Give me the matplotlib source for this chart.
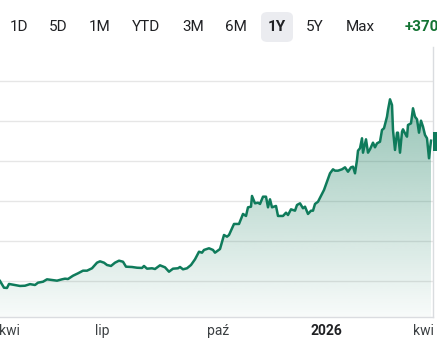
import numpy as np
import matplotlib
matplotlib.use("Agg")
import matplotlib.pyplot as plt
from matplotlib.patches import Polygon, FancyBboxPatch, Rectangle
from matplotlib.colors import to_rgb

plt.rcParams['font.family'] = ['Roboto', 'DejaVu Sans']

# ---- data (trading-session index, price) ----
session = [0, 4, 7, 9, 15, 20, 25, 30, 35, 38, 43, 47, 52, 57, 62, 65, 68, 73, 78, 83,
           87, 92, 97, 100, 104, 107, 111, 115, 119, 123, 126, 132, 137, 142, 144, 147,
           152, 155, 160, 165, 169, 173, 178, 180, 183, 187, 191, 195, 199, 202, 204,
           209, 213, 215, 220, 224, 227, 229, 234, 239, 243, 246, 248, 251, 252, 255,
           258, 260, 263, 266, 268, 270, 272, 276, 278, 283, 286, 288, 291, 295, 297,
           300, 303, 305, 308, 311, 313, 315, 318, 321, 324, 327, 330, 333, 335, 338,
           342, 345, 348, 351, 353, 355, 357, 358, 360, 362, 363, 366, 368, 370, 373,
           375, 377, 380, 382, 384, 387, 388, 390, 392, 393, 395, 397, 398, 400, 402,
           403, 405, 407, 408, 411, 413, 415, 417, 419, 421, 423, 425, 427, 429, 431]
price = [50, 41.6, 41.3, 46.3, 45, 43.8, 44.1, 46.1, 45, 47.9, 49.1, 52.1, 51.3, 50.4,
         52.1, 52.9, 52.5, 56.6, 59.6, 62.9, 62.9, 65.9, 72.9, 74.6, 72.9, 70, 68.8,
         72.9, 75.4, 74.1, 67.9, 67.5, 66.6, 66.3, 68.8, 65.4, 65.9, 65, 69.6, 67.1,
         61.6, 65.4, 65.9, 67.5, 64.6, 65.9, 70, 77.1, 86.6, 85.4, 88.8, 90.9, 88.8,
         85.4, 90, 107.5, 105.4, 107.5, 121.3, 121.3, 133.8, 131.3, 142.1, 142.9,
         156.3, 147.1, 147.9, 146.3, 155.4, 155.4, 142.1, 152.1, 142.1, 143.8, 131.3,
         131.3, 135.4, 132.5, 139.6, 137.9, 145, 147.1, 140.9, 142.9, 133.8, 137.9,
         137.9, 146.3, 149.1, 156.3, 163.8, 174.1, 184.6, 189.6, 187.9, 187.9, 189.6,
         192.1, 186.6, 192.1, 192.9, 184.6, 201.3, 212.9, 215.9, 228.4, 210.4, 227.1,
         210.4, 214.6, 222.9, 217.1, 222.1, 224.1, 238.8, 240.9, 255.4, 263.8, 277.1,
         270, 238.8, 213.8, 235.4, 235.4, 210.4, 236.6, 239.6, 234.6, 230.4, 245,
         247.1, 265.9, 255.4, 252.1, 235.4, 250.4, 242.9, 232.5, 228.4, 203.4, 225.4]

tick_session = [9, 102, 218, 326, 423]
tick_labels = ["kwi", "lip", "paź", "2026", "kwi"]
grid_values = [50, 100, 150, 200, 250, 300]
ranges = ["1D", "5D", "1M", "YTD", "3M", "6M", "1Y", "5Y", "Max"]
selected_range = "1Y"
change_text = "+370"

GREEN = "#0f7b5b"
TEXT = "#202124"

W, H = 437, 343
fig = plt.figure(figsize=(W / 100, H / 100), dpi=100)
fig.patch.set_facecolor("white")

# axes: x 0..433 px, y 47..317 px
ax = fig.add_axes([0, (H - 317) / H, 433 / W, (317 - 47) / H])
x_min, x_max = 0, 433
y_min, y_max = 5, 342.5
ax.set_xlim(x_min, x_max)
ax.set_ylim(y_min, y_max)

for g in grid_values:
    ax.axhline(g, color="#e6e6e6", lw=1.0, zorder=0)

t = np.array(session, dtype=float)
p = np.array(price, dtype=float)

# gradient fill under the line
verts = np.vstack([np.column_stack([t, p]), [[t[-1], y_min], [t[0], y_min]]])
poly = Polygon(verts, closed=True, facecolor="none", edgecolor="none")
ax.add_patch(poly)
n = 256
alphas = np.linspace(0.44, 0.03, n)
rgba = np.zeros((n, 1, 4))
rgba[..., :3] = to_rgb("#137a5a")
rgba[..., 3] = alphas[:, None]
im = ax.imshow(rgba, extent=[t[0], t[-1], y_min, p.max()], aspect="auto",
               origin="upper", zorder=1, interpolation="bicubic")
im.set_clip_path(poly)

ax.plot(t, p, color=GREEN, lw=1.8, zorder=3, solid_joinstyle="round")

for side in ["top", "left"]:
    ax.spines[side].set_visible(False)
ax.spines["bottom"].set_color("#dadce0")
ax.spines["right"].set_color("#dadce0")
ax.spines["bottom"].set_linewidth(1)
ax.spines["right"].set_linewidth(1)
ax.set_yticks([])
ax.set_xticks(tick_session)
ax.set_xticklabels(tick_labels, fontsize=10, color="#3c4043")
ax.tick_params(axis="x", length=0, pad=5)
for lbl in ax.get_xticklabels():
    if lbl.get_text() == "2026":
        lbl.set_fontweight("bold")
        lbl.set_color(TEXT)
ax.set_facecolor("none")

# range tabs
tab_x = [19, 58, 100, 146, 193, 236, 277, 315, 360]
for name, xc in zip(ranges, tab_x):
    if name == selected_range:
        box = FancyBboxPatch(((xc - 16) / W, 1 - 42 / H), 32 / W, 30 / H,
                             boxstyle="round,pad=0,rounding_size=0.015",
                             transform=fig.transFigure, facecolor="#ebecf0",
                             edgecolor="none")
        fig.patches.append(box)
    fig.text(xc / W, 1 - 27 / H, name, ha="center", va="center", fontsize=11,
             color=TEXT, fontweight="bold" if name == selected_range else "normal")
fig.text(405 / W, 1 - 27 / H, change_text, ha="left", va="center", fontsize=11,
         color="#137333", fontweight="bold")

# price tag marker at the right edge (cropped)
fig.patches.append(Rectangle((433 / W, 1 - 151 / H), 6 / W, 19 / H,
                             transform=fig.transFigure, facecolor=GREEN,
                             edgecolor="none"))

fig.savefig("out.png", dpi=100)
